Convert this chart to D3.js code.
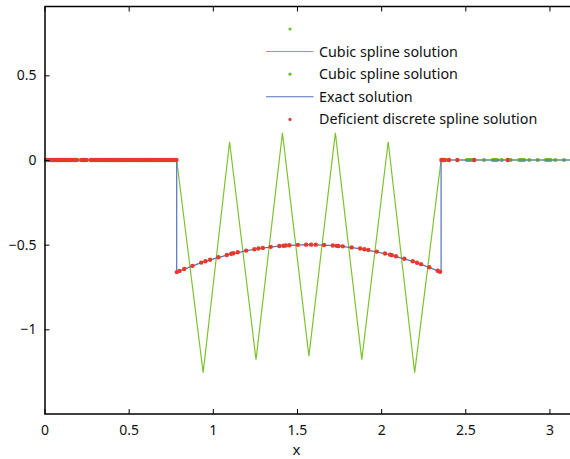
<!DOCTYPE html>
<html><head><meta charset="utf-8">
<script src="https://cdn.jsdelivr.net/npm/d3@7"></script>
<style>body{margin:0;background:#fff}svg{display:block}text{font-family:"Noto Sans",sans-serif}</style>
</head><body><svg id="c" width="570" height="459"></svg>
<script>
// ---- data ----
const xTicks = [0, 0.5, 1, 1.5, 2, 2.5, 3];
const xTickLabels = ["0", "0.5", "1", "1.5", "2", "2.5", "3"];
const yTicks = [-1, -0.5, 0, 0.5];
const yTickLabels = ["\u22121", "\u22120.5", "0", "0.5"];

const cubicLineX = [0, 0.7854, 0.9425, 1.0996, 1.2566, 1.4137, 1.5708, 1.7279, 1.8850, 2.0420, 2.1991, 2.3562, 3.1416];
const cubicLineY = [0, 0, -1.256, 0.108, -1.179, 0.160, -1.158, 0.160, -1.179, 0.108, -1.256, 0, 0];

const cubicDotX = [0.200, 2.389, 2.508, 2.516, 2.524, 2.531, 2.538, 2.611, 2.663, 2.670, 2.676, 2.683, 2.690, 2.716, 2.770, 2.821, 2.828, 2.835, 2.842, 2.849, 2.880, 2.930, 2.979, 2.986, 2.993, 3.000, 3.007, 3.035, 3.086];
const cubicDotY = [0, 0, 0, 0, 0, 0, 0, 0, 0, 0, 0, 0, 0, 0, 0, 0, 0, 0, 0, 0, 0, 0, 0, 0, 0, 0, 0, 0, 0];

const exactX = [0, 0.7854, 0.7854, 0.9425, 1.0996, 1.2566, 1.4137, 1.5708, 1.7279, 1.8850, 2.0420, 2.1991, 2.3562, 2.3562, 3.1416];
const exactY = [0, 0, -0.662, -0.602, -0.557, -0.525, -0.506, -0.500, -0.506, -0.525, -0.557, -0.602, -0.662, 0, 0];

const defX = [0.00, 0.01, 0.02, 0.03, 0.04, 0.05, 0.06, 0.07, 0.08, 0.09, 0.10, 0.11, 0.12, 0.13, 0.14, 0.15, 0.16, 0.17, 0.18, 0.19, 0.22, 0.23, 0.24, 0.25, 0.275, 0.285, 0.295, 0.305, 0.315, 0.325, 0.335, 0.345, 0.355, 0.365, 0.375, 0.385, 0.395, 0.405, 0.415, 0.425, 0.435, 0.445, 0.455, 0.465, 0.475, 0.485, 0.495, 0.505, 0.515, 0.525, 0.535, 0.545, 0.555, 0.565, 0.575, 0.585, 0.595, 0.605, 0.615, 0.625, 0.635, 0.645, 0.655, 0.665, 0.675, 0.685, 0.695, 0.705, 0.715, 0.725, 0.735, 0.745, 0.755, 0.765, 0.775, 0.784,
  0.786, 0.802, 0.830, 0.879, 0.931, 0.956, 0.984, 1.033, 1.083, 1.109, 1.122, 1.148, 1.198, 1.247, 1.271, 1.297, 1.344, 1.395, 1.419, 1.433, 1.455, 1.505, 1.554,
  1.584, 1.612, 1.661, 1.713, 1.736, 1.746, 1.772, 1.825, 1.875, 1.900, 1.924, 1.974, 2.023, 2.053, 2.063, 2.088, 2.138, 2.188, 2.213, 2.237, 2.286, 2.336, 2.350,
  2.358, 2.364, 2.370, 2.376, 2.403, 2.453, 2.553, 2.752];
const defY = [0, 0, 0, 0, 0, 0, 0, 0, 0, 0, 0, 0, 0, 0, 0, 0, 0, 0, 0, 0, 0, 0, 0, 0, 0, 0, 0, 0, 0, 0, 0, 0, 0, 0, 0, 0, 0, 0, 0, 0, 0, 0, 0, 0, 0, 0, 0, 0, 0, 0, 0, 0, 0, 0, 0, 0, 0, 0, 0, 0, 0, 0, 0, 0, 0, 0, 0, 0, 0, 0, 0, 0, 0, 0, 0, 0,
  -0.662, -0.655, -0.644, -0.625, -0.606, -0.598, -0.589, -0.574, -0.561, -0.554, -0.551, -0.545, -0.535, -0.527, -0.523, -0.519, -0.513, -0.508, -0.506, -0.505, -0.503, -0.501, -0.500,
  -0.500, -0.500, -0.502, -0.505, -0.507, -0.508, -0.510, -0.516, -0.523, -0.527, -0.531, -0.541, -0.552, -0.559, -0.562, -0.568, -0.583, -0.598, -0.607, -0.615, -0.633, -0.654, -0.660,
  0, 0, 0, 0, 0, 0, 0, 0];

const legendLabels = ["", "Cubic spline solution", "Cubic spline solution", "Exact solution", "Deficient discrete spline solution"];
const legendKinds = ["dot", "line", "dot", "line", "dot"];
const legendColors = ["#6cbd2c", "#7cc42e", "#6cbd2c", "#5472c4", "#e53a2c"];

// ---- drawing ----
const svg = d3.select("#c");
const L = 44.5, R = 573.3, T = 6.5, B = 414;
const x = d3.scaleLinear().domain([0, Math.PI]).range([L, R]);
const y = d3.scaleLinear().domain([-1.5, 0.91]).range([B, 414 - 2.41 * 169.33]);

svg.append("defs").append("clipPath").attr("id", "clip")
  .append("rect").attr("x", L).attr("y", T).attr("width", 570 - L).attr("height", B - T);

const g = svg.append("g").attr("clip-path", "url(#clip)");
const line = d3.line().x(d => x(d[0])).y(d => y(d[1]));

g.append("path").datum(cubicLineX.map((v, i) => [v, cubicLineY[i]]))
  .attr("d", line).attr("fill", "none").attr("stroke", legendColors[1]).attr("stroke-width", 1.2);

g.selectAll(".cd").data(cubicDotX.map((v, i) => [v, cubicDotY[i]])).enter()
  .append("circle").attr("cx", d => x(d[0])).attr("cy", d => y(d[1])).attr("r", 2.1).attr("fill", legendColors[2]);

g.append("path").datum(exactX.map((v, i) => [v, exactY[i]]))
  .attr("d", line).attr("fill", "none").attr("stroke", legendColors[3]).attr("stroke-width", 1.2);

g.selectAll(".dd").data(defX.map((v, i) => [v, defY[i]])).enter()
  .append("circle").attr("cx", d => x(d[0])).attr("cy", d => y(d[1])).attr("r", 2.2).attr("fill", legendColors[4]);

// axes
const ax = svg.append("g");
const xAxisB = d3.axisBottom(x).tickValues(xTicks).tickFormat((d, i) => xTickLabels[i]).tickSizeInner(-5).tickSizeOuter(0).tickPadding(11);
const gb = ax.append("g").attr("transform", `translate(0,${B})`).call(xAxisB);
const xAxisT = d3.axisTop(x).tickValues(xTicks).tickFormat("").tickSizeInner(-5).tickSizeOuter(0);
const gt = ax.append("g").attr("transform", `translate(0,${T})`).call(xAxisT);
const yAxisL = d3.axisLeft(y).tickValues(yTicks).tickFormat((d, i) => yTickLabels[i]).tickSizeInner(-5).tickSizeOuter(0).tickPadding(8);
const gl = ax.append("g").attr("transform", `translate(${L},0)`).call(yAxisL);

[gb, gt, gl].forEach(a => {
  a.select(".domain").attr("stroke", "#000").attr("stroke-width", 1.5);
  a.selectAll(".tick line").attr("stroke", "#000").attr("stroke-width", 1);
  a.selectAll("text").attr("font-size", 14).attr("fill", "#111").style("font-family", '"Noto Sans",sans-serif');
});
gb.select(".domain").attr("d", `M${L},0H570`);
gt.select(".domain").attr("d", `M${L},0H570`);

svg.append("text").attr("x", 296.5).attr("y", 455).attr("text-anchor", "middle")
  .attr("font-size", 15).attr("fill", "#111").text("x");

// legend
const rowY = [29, 51.5, 74.2, 96.8, 119.4];
const lg = svg.append("g");
legendLabels.forEach((lab, i) => {
  if (legendKinds[i] === "line") {
    lg.append("line").attr("x1", 266).attr("x2", 313.5).attr("y1", rowY[i]).attr("y2", rowY[i])
      .attr("stroke", legendColors[i]).attr("stroke-width", 1.1);
  } else {
    lg.append("circle").attr("cx", 290).attr("cy", rowY[i]).attr("r", 1.6).attr("fill", legendColors[i]);
  }
  lg.append("text").attr("x", 319).attr("y", rowY[i] + 5).attr("font-size", 14.3).attr("fill", "#111").text(lab);
});
</script></body></html>
